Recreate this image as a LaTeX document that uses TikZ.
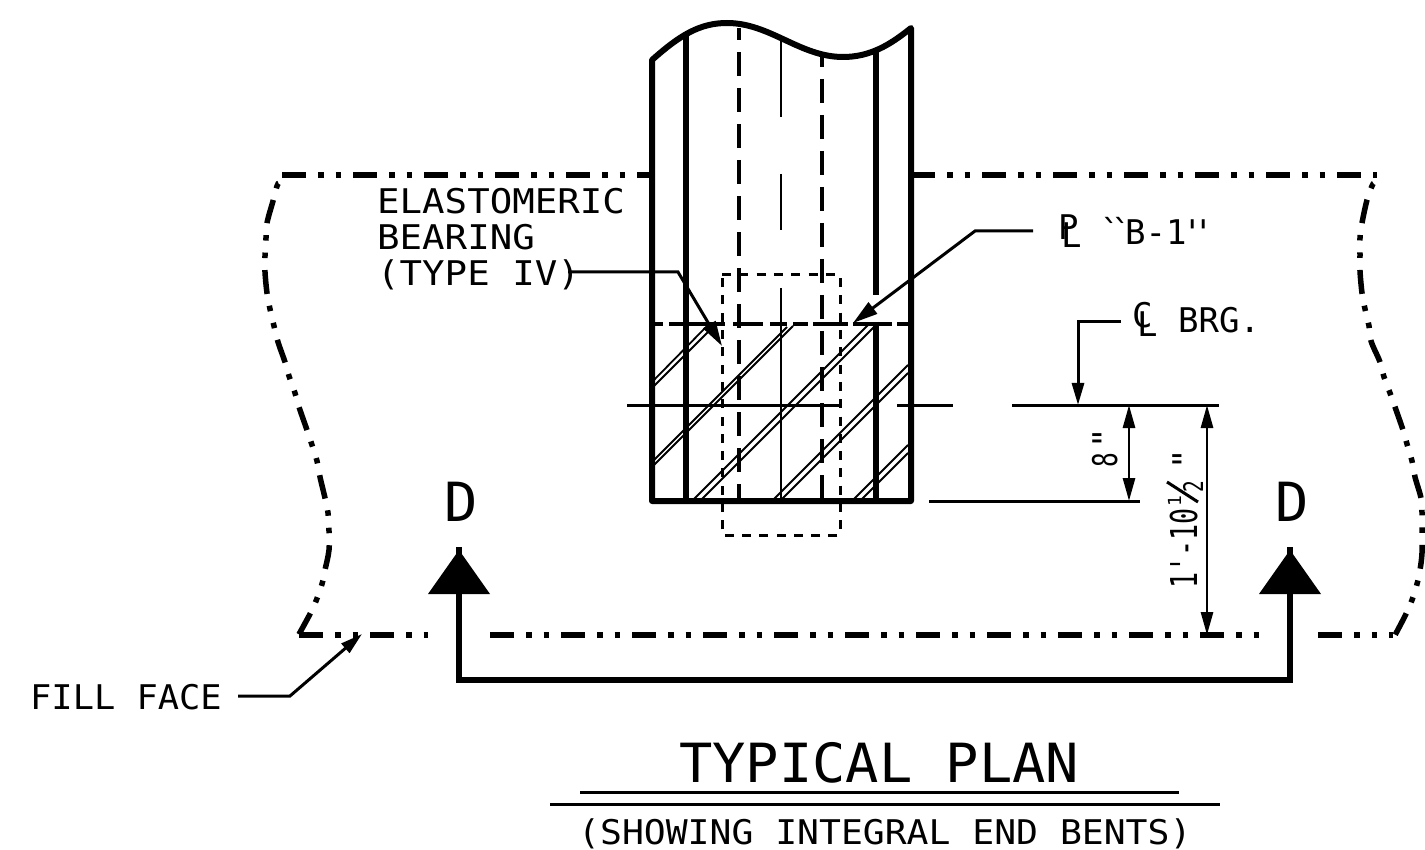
\documentclass[tikz,border=0pt]{standalone}
\usepackage{fontspec}
\usetikzlibrary{arrows.meta}
\newfontfamily\cad[FakeStretch=1.1]{DejaVu Sans Mono}
\newfontfamily\cads[FakeStretch=1.07]{DejaVu Sans Mono}
\newfontfamily\cadf[FakeStretch=1.04]{DejaVu Sans Mono}
\newfontfamily\cadt[FakeStretch=1.025]{DejaVu Sans Mono}
\newfontfamily\cadn{DejaVu Sans Mono}
\newfontfamily\cadd[FakeStretch=0.72]{DejaVu Sans Mono}
\newfontfamily\cadq[LetterSpace=-28]{DejaVu Sans Mono}
\tikzset{
  wall/.style={line width=6pt,line cap=butt},
  phantomline/.style={line width=5.5pt,dash pattern=on 24pt off 12pt on 5.5pt off 12pt on 5.5pt off 12pt},
  hid/.style={line width=4.4pt,dash pattern=on 24pt off 12pt},
  hidh/.style={line width=4.4pt},
  thinhid/.style={line width=3pt,dash pattern=on 9pt off 8.3pt},
  ctr/.style={line width=2.8pt},
  dim/.style={line width=3pt},
  hatch/.style={line width=1.8pt},
  leader/.style={line width=3pt,-{Triangle[length=25pt,width=14pt]}},
  dimarrow/.style={line width=2.8pt,{Triangle[length=23pt,width=12pt]}-{Triangle[length=23pt,width=12pt]}},
  label/.style={font=\cad\fontsize{34}{34}\selectfont,anchor=base west,inner sep=0pt},
  big/.style={font=\cadt\fontsize{54}{54}\selectfont,anchor=base west,inner sep=0pt},
  small/.style={font=\cadn\fontsize{34}{34}\selectfont,anchor=base west,inner sep=0pt},
}
\begin{document}
\begin{tikzpicture}[x=1pt,y=-1pt]
\useasboundingbox (0,0) rectangle (1425,850);
% girder
\draw[wall,line join=round] (652,501) -- (652,60) .. controls (680,35) and (700,23) .. (727,23)
  .. controls (770,23) and (800,57) .. (843,57) .. controls (870,57) and (890,45) .. (911,28) -- (911,501) -- cycle;
\draw[wall] (686,34) -- (686,501);
\draw[wall] (876,52) -- (876,295);
\draw[wall] (876,322) -- (876,501);
\draw[hid,dash phase=12] (739,28) -- (739,501);
\draw[hid,dash phase=12] (822,55) -- (822,501);
\draw[ctr] (781,40) -- (781,117);
\draw[ctr] (781,174) -- (781,230);
\draw[ctr] (781,288) -- (781,501);
\foreach \a/\b in {652/663,669/725,733/763,770/787,793/808,813/848,853/892,897/911}
  \draw[hidh] (\a,324) -- (\b,324);
\draw[thinhid] (722,275) -- (840,275) -- (840,535) -- (722,535) -- cycle;
% hatch
\foreach \a/\b/\c/\d in {654/380/708/325,654/386/714/326,654/460/787/327,654/465/793/326,694/499/868/325,702/499/874/327,
  774/499/908/365,782/499/908/373,854/499/908/445,862/499/908/453}
  \draw[hatch] (\a,\b) -- (\c,\d);
% fill face boundary
\draw[phantomline] (282,175) -- (650,175);
\draw[phantomline,dash phase=2] (913,175) -- (1377,175);
\draw[phantomline,dash phase=53.5] plot[smooth,tension=0.6] coordinates {(278.5,183.5) (277,186) (273,201) (267,223) (266,238) (265,256) (265,272) (267,293) (270,309) (274,326) (278,342) (285,362) (289,376) (295,393) (299,407) (307,430) (312,445) (317,461) (320,477) (325,498) (328,513) (329,531) (329,550) (325,570) (322,584) (316,601) (310,614) (298,636)};
\draw[phantomline,dash phase=53.5] plot[smooth,tension=0.6] coordinates {(1373.5,183.5) (1372,186) (1367,200) (1362,223) (1360,238) (1360,255) (1360,271) (1362,293) (1365,309) (1369,326) (1371,341) (1380,362) (1384,377) (1390,393) (1395,407) (1403,430) (1407,444) (1412,461) (1415,477) (1421,498) (1422,513) (1422,532) (1422,553) (1420,570) (1417,584) (1412,600) (1406,614) (1394,637)};
\draw[phantomline] (299,635) -- (428,635);
\draw[phantomline] (490,635) -- (1260,635);
\draw[phantomline] (1318,635) -- (1393,635);
% section marks
\draw[line width=6.5pt,line join=miter] (459,547) -- (459,680) -- (1290,680) -- (1290,547);
\fill (459,550) -- (490,594) -- (428,594) -- cycle;
\fill (1290,550) -- (1321,594) -- (1259,594) -- cycle;
\node[big] (dl) at (444,521) {D};
\node[big] (dr) at (1275,521) {D};
% dimension lines
\draw[dim] (627,405) -- (840,405);
\draw[dim] (897,405) -- (953,405);
\draw[dim] (1012,405) -- (1219,405);
\draw[dim] (929,501) -- (1140,501);
\draw[dimarrow] (1129,405) -- (1129,501);
\draw[dimarrow] (1207,405) -- (1207,635);
\node[small,rotate=90,font=\cadd\fontsize{34}{34}\selectfont] (eight) at (1117,468) {8};
\node[small,rotate=90] (eightm) at (1117,449) {\itshape"};
\node[small,rotate=90,font=\cadd\fontsize{37}{37}\selectfont] (ftin) at (1197,589) {1'-10};
\node[small,rotate=90,font=\cadn\fontsize{18}{18}\selectfont] (one) at (1181,507) {1};
\draw[dim] (1167,482) -- (1198,502);
\node[small,rotate=90,font=\cadd\fontsize{27}{27}\selectfont] (two) at (1203,493) {2};
\node[small,rotate=90] (inch) at (1197,470) {\itshape"};
% labels
\node[label] (elast) at (377,214) {ELASTOMERIC};
\node[label] (bear) at (377,250) {BEARING};
\node[label] (typ) at (377,286) {(TYPE IV)};
\coordinate (elastbend) at (678,272);
\coordinate (elasttip) at (722,346);
\draw[leader] (568,272) -- (elastbend) -- (elasttip);
% PL B-1
\node[small] (pp) at (1058,240) {P};
\node[small] (pl) at (1061,248) {L};
\node[small,font=\cadq\fontsize{34}{34}\selectfont] (lq) at (1100,245) {``};
\node[small] (bone) at (1125,245) {B-1};
\node[small,font=\cadq\fontsize{34}{34}\selectfont] (rq) at (1182,245) {\itshape''};
\coordinate (pltip) at (853,323);
\draw[leader] (1033,231) -- (975,231) -- (pltip);
% CL BRG
\node[small] (cc) at (1132,328) {C};
\node[small] (cl) at (1137,337) {L};
\node[small] (brg) at (1178,333) {BRG.};
\draw[leader,-{Triangle[length=22pt,width=12pt]}] (1121,322) -- (1078,322) -- (1078,405);
% fill face
\node[label,font=\cadf\fontsize{34}{34}\selectfont] (ff) at (30,709) {FILL FACE};
\draw[leader,-{Triangle[length=22pt,width=12pt]}] (238,696) -- (290,696) -- (362,634);
% title
\node[big] (title) at (679,782) {TYPICAL PLAN};
\draw[line width=3pt] (580,792) -- (1179,792);
\draw[line width=3pt] (550,804) -- (1220,804);
\node[label,font=\cads\fontsize{34}{34}\selectfont] (sub) at (578,844) {(SHOWING INTEGRAL END BENTS)};
\end{tikzpicture}
\end{document}
